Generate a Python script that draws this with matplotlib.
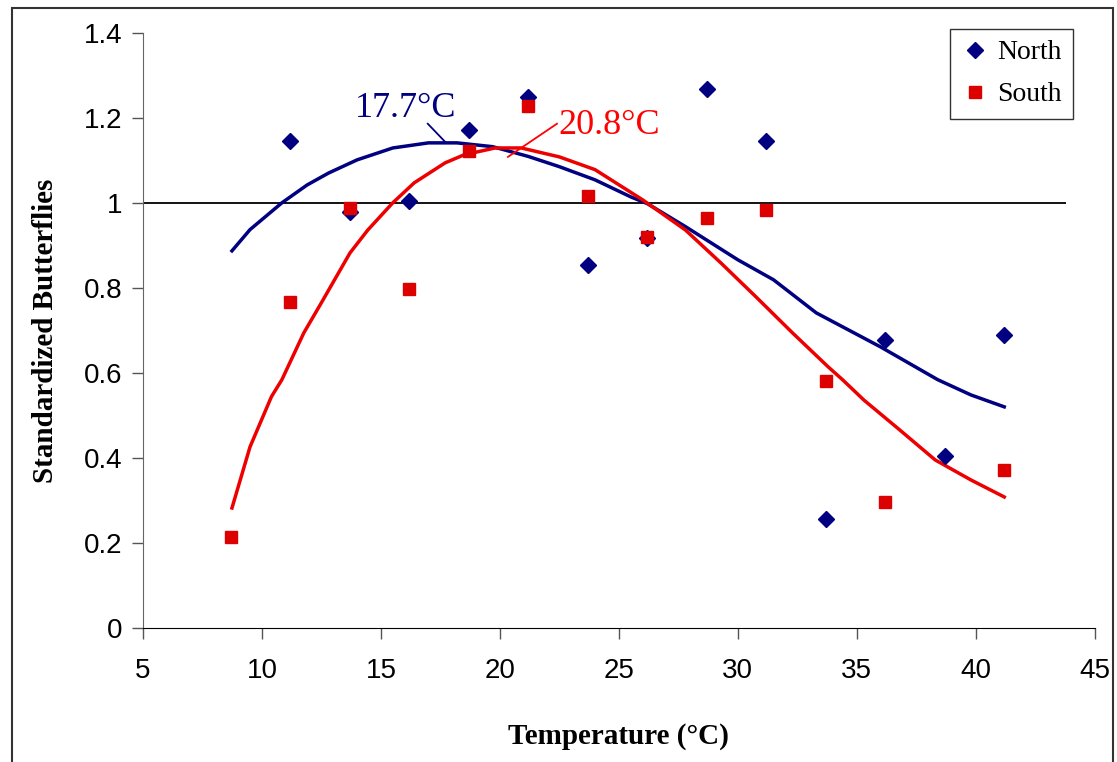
import matplotlib
matplotlib.use("Agg")
import matplotlib.pyplot as plt

# datos
temp = [8.7, 11.2, 13.7, 16.2, 18.7, 21.2, 23.7, 26.2, 28.7, 31.2, 33.7, 36.2, 38.7, 41.2]

north_x = [11.2, 13.7, 16.2, 18.7, 21.2, 23.7, 26.2, 28.7, 31.2, 33.7, 36.2, 38.7, 41.2]
north_y = [1.146, 0.979, 1.005, 1.172, 1.249, 0.854, 0.918, 1.268, 1.146, 0.256, 0.678, 0.405, 0.690]

south_x = [8.7, 11.2, 13.7, 16.2, 18.7, 21.2, 23.7, 26.2, 28.7, 31.2, 33.7, 36.2, 41.2]
south_y = [0.214, 0.767, 0.988, 0.798, 1.122, 1.228, 1.016, 0.920, 0.965, 0.983, 0.581, 0.296, 0.372]

# curvas suavizadas
north_fit_x = [8.74, 9.5, 10.84, 11.9, 12.8, 14.0, 15.5, 17.0, 18.2, 19.7, 21.2, 22.5, 24.0,
               25.5, 26.2, 27.8, 30.0, 31.5, 33.3, 36.0, 38.4, 39.8, 41.2]
north_fit_y = [0.887, 0.937, 1.000, 1.042, 1.070, 1.101, 1.129, 1.141, 1.141, 1.132, 1.109, 1.085, 1.054,
               1.014, 0.998, 0.944, 0.866, 0.819, 0.741, 0.661, 0.584, 0.548, 0.520]

south_fit_x = [8.74, 9.5, 10.4, 10.84, 11.76, 12.5, 13.7, 14.45, 15.5, 16.4, 17.7, 18.5, 19.8, 20.9,
               22.5, 24.0, 26.0, 27.8, 29.3, 30.76, 32.3, 33.8, 34.4, 35.3, 36.8, 38.3, 39.8, 41.2]
south_fit_y = [0.282, 0.426, 0.544, 0.584, 0.694, 0.765, 0.882, 0.936, 1.000, 1.047, 1.094, 1.113, 1.129, 1.129,
               1.108, 1.078, 1.007, 0.936, 0.858, 0.779, 0.694, 0.614, 0.584, 0.536, 0.466, 0.395, 0.348, 0.308]

navy = "#000080"
red_pt = "#DD0000"
red_ln = "#EE0000"

fig = plt.figure(figsize=(11.17, 7.62), dpi=100)
ax = fig.add_axes([0.128, 0.176, 0.852, 0.781])

# linea de referencia en 1
ax.hlines(1.0, 5, 43.8, color="black", linewidth=1.3, zorder=1)

ax.plot(north_fit_x, north_fit_y, color=navy, linewidth=2.5, zorder=2)
ax.plot(south_fit_x, south_fit_y, color=red_ln, linewidth=2.5, zorder=2)

ax.plot(north_x, north_y, linestyle="none", marker="D", markersize=8.5, color=navy,
        markeredgecolor=navy, label="North", zorder=3)
ax.plot(south_x, south_y, linestyle="none", marker="s", markersize=8.5, color=red_pt,
        markeredgecolor=red_pt, label="South", zorder=3)

# anotaciones de los maximos
ax.plot([16.97, 17.69], [1.186, 1.144], color=navy, lw=1.3, zorder=2)
ax.text(13.9, 1.202, "17.7°C", color=navy, fontsize=26, family="Liberation Serif",
        va="baseline", ha="left")
ax.plot([20.34, 22.4], [1.108, 1.186], color="#FF0000", lw=1.3, zorder=2)
ax.text(22.45, 1.163, "20.8°C", color="#FF0000", fontsize=26, family="Liberation Serif",
        va="baseline", ha="left")

ax.set_xlim(5, 45)
ax.set_ylim(0, 1.4)
ax.set_xticks([5, 10, 15, 20, 25, 30, 35, 40, 45])
ax.set_yticks([0, 0.2, 0.4, 0.6, 0.8, 1.0, 1.2, 1.4])
ax.set_yticklabels(["0", "0.2", "0.4", "0.6", "0.8", "1", "1.2", "1.4"])
for lab in ax.get_xticklabels() + ax.get_yticklabels():
    lab.set_family("Liberation Sans")
    lab.set_fontsize(20)
ax.tick_params(axis="both", direction="out", length=8, width=1, color="#555555", pad=7)
ax.tick_params(axis="x", pad=14)

ax.spines["top"].set_visible(False)
ax.spines["right"].set_visible(False)
ax.spines["left"].set_color("#666666")
ax.spines["bottom"].set_color("black")

ax.set_xlabel("Temperature (°C)", fontsize=21, fontweight="bold", family="Liberation Serif", labelpad=28)
ax.set_ylabel("Standardized Butterflies", fontsize=21, fontweight="bold", family="Liberation Serif", labelpad=18)

leg = ax.legend(loc="upper right", bbox_to_anchor=(0.977, 1.0067), frameon=True, fancybox=False,
                prop={"family": "Liberation Serif", "size": 20}, handletextpad=0.3,
                handlelength=1.0, borderpad=0.4, labelspacing=0.6, borderaxespad=0)
leg.get_frame().set_edgecolor("black")
leg.get_frame().set_linewidth(1.0)

# borde exterior del grafico
borde = plt.Rectangle((12 / 1117, -0.02), 1101 / 1117, 1.02 - 8 / 762, transform=fig.transFigure,
                      fill=False, edgecolor="#333333", linewidth=1.5)
fig.patches.append(borde)

fig.savefig("out.png", dpi=100)
